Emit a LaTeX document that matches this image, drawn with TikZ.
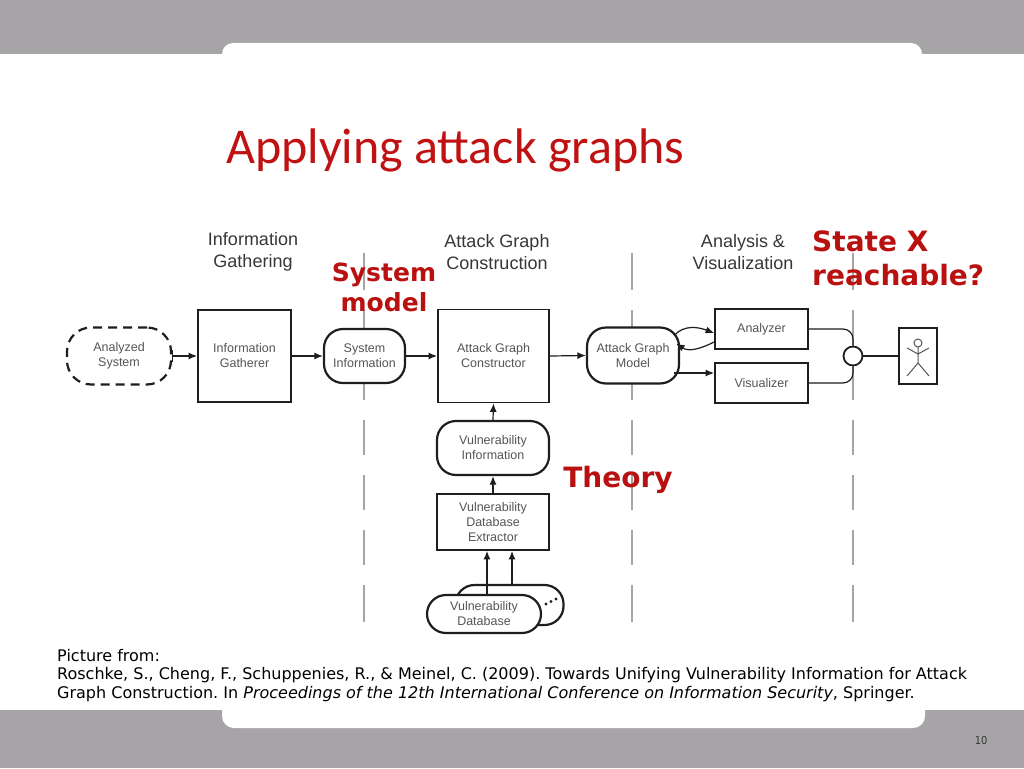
\documentclass[tikz,border=0pt]{standalone}
\usepackage{fontspec}
\setmainfont{Liberation Sans}
\newfontfamily\titlefont{Carlito}
\newfontfamily\verd{DejaVu Sans}
\newfontfamily\tah{DejaVu Sans Condensed}
\usetikzlibrary{arrows.meta,calc}
\definecolor{band}{RGB}{167,164,167}
\definecolor{titlered}{RGB}{192,18,18}
\definecolor{labred}{RGB}{185,16,16}
\definecolor{ink}{RGB}{30,30,30}
\definecolor{txt}{RGB}{85,85,85}
\definecolor{hdr}{RGB}{55,55,55}
\definecolor{sep}{RGB}{165,165,165}
\tikzset{
  box/.style={draw=ink, line width=1.8pt, fill=white, inner sep=0pt, align=center,
    text=txt, font=\fontsize{12.5}{15}\selectfont},
  stad/.style={box, rounded corners=19pt, line width=2.2pt},
  arr/.style={draw=ink, line width=1.2pt, -{Latex[length=8.5pt,width=7pt]}},
  wire/.style={draw=ink, line width=1.2pt},
  sepline/.style={draw=sep, line width=1.6pt},
  hdrtext/.style={align=center, text=hdr, font=\fontsize{18}{22}\selectfont},
  redlab/.style={text=labred, font=\verd\bfseries\fontsize{28}{34}\selectfont, inner sep=0pt},
}
\frenchspacing
\begin{document}
\begin{tikzpicture}[x=1pt,y=-1pt]
\useasboundingbox (0,0) rectangle (1024,768);
\fill[white] (0,0) rectangle (1024,768);
% bands
\fill[band] (0,0) rectangle (1024,54);
\fill[white,rounded corners=11pt] (222,43) rectangle (922,110);
\fill[band] (0,710) rectangle (1024,768);
\fill[white,rounded corners=12pt] (222,640) rectangle (925,728);
\node[anchor=base east, text=hdr, font=\tah\fontsize{11}{13}\selectfont] (pnum) at (991,744) {10};
% title
\node[anchor=base west, text=titlered, font=\titlefont\fontsize{50}{60}\selectfont, inner sep=0pt] (title) at (226,163) {Applying attack graphs};
% separator lines
\foreach \x in {364,632,853}{
  \foreach \a/\b in {253/290,310/400,420/455,475/510,530/565,585/622}{
    \draw[sepline] (\x,\a) -- (\x,\b);
  }
}
% headers
\node[hdrtext] (h1) at (253,252) {Information\\Gathering};
\node[hdrtext] (h2) at (497,252) {Attack Graph\\Construction};
\node[hdrtext] (h3) at (743,252) {Analysis \&\\Visualization};
% nodes
\node[box, dashed, dash pattern=on 9pt off 6pt, line width=2.2pt, rounded corners=24pt,
      minimum width=104pt, minimum height=57pt] (as) at (119,356) {Analyzed\\System};
\node[box, minimum width=93pt, minimum height=92pt] (ig) at (244.5,356) {Information\\Gatherer};
\node[stad, minimum width=81pt, minimum height=54pt] (si) at (364.5,356) {System\\Information};
\node[box, minimum width=111pt, minimum height=93pt] (agc) at (493.5,356) {Attack Graph\\Constructor};
\node[stad, minimum width=92pt, minimum height=56pt] (agm) at (633,355.5) {Attack Graph\\Model};
\node[box, minimum width=93pt, minimum height=40pt] (an) at (761.5,329) {Analyzer};
\node[box, minimum width=93pt, minimum height=40pt] (vi) at (761.5,383) {Visualizer};
\node[draw=ink, line width=1.8pt, fill=white, circle, minimum size=19pt, inner sep=0pt] (circ) at (853,356) {};
\node[draw=ink, line width=1.8pt, fill=white, minimum width=38pt, minimum height=56pt, inner sep=0pt] (actor) at (918,356) {};
\node[stad, minimum width=112pt, minimum height=54pt] (vinfo) at (493,448) {Vulnerability\\Information};
\node[box, minimum width=112pt, minimum height=56pt] (vde) at (493,522) {Vulnerability\\Database\\Extractor};
\node[stad, minimum width=108pt, minimum height=40pt] (dbb) at (509.5,605) {};
\node[stad, minimum width=114pt, minimum height=38pt] (dbf) at (484,614) {Vulnerability\\Database};
\fill[ink] (546,604) circle (1.6pt) (551,601.5) circle (1.6pt) (556,599) circle (1.6pt);
% stick figure
\draw[txt, line width=1pt] (918,343) circle (4pt);
\draw[txt, line width=1pt] (918,347) -- (918,363)
  (907,348) -- (918,354) -- (929,348)
  (907,376) -- (918,363) -- (929,376);
% connectors
\draw[wire, {Bar[width=12pt]}-{Latex[length=8.5pt,width=7pt]}] (as.east) -- (ig.west);
\draw[arr] (ig.east) -- (si.west);
\draw[arr] (si.east) -- (agc.west);
\draw[arr] (agc.east) -- (agm.west);
\draw[arr] (vinfo.north) -- (agc.south);
\draw[arr] (vde.north) -- (vinfo.south);
\draw[arr] ([xshift=3pt]dbf.north) -- ([xshift=3pt]dbf.north |- vde.south);
\draw[arr] ([xshift=2.5pt]dbb.north) -- ([xshift=2.5pt]dbb.north |- vde.south);
\draw[arr] ([xshift=-6pt,yshift=20pt]agm.east) .. controls +(10pt,11pt) and +(-16pt,6pt) .. ([yshift=-4pt]an.west);
\draw[arr] ([yshift=-13pt]an.west) .. controls +(-16pt,-8pt) and +(12pt,-8pt) .. ([xshift=-4pt,yshift=12pt]agm.east);
\draw[arr] ([xshift=-6pt,yshift=-17.5pt]agm.east) -- ([yshift=10pt]vi.west);
\draw[wire, rounded corners=10pt] (an.east) -| (circ.north);
\draw[wire, rounded corners=10pt] (vi.east) -| (circ.south);
\draw[wire] (circ.east) -- (actor.west);
% red labels
\node[redlab, align=center, font=\verd\bfseries\fontsize{25}{30}\selectfont] (sysm) at (384,287) {System\\model};
\node[redlab, align=left, anchor=west] (statex) at (812,258) {State X\\reachable?};
\node[redlab] (theory) at (618,480) {Theory};
% citation
\node[anchor=north west, inner sep=0pt, align=left, text=black, font=\verd\fontsize{16}{18.5}\selectfont] (cite) at (57,649)
 {Picture from:\\Roschke, S., Cheng, F., Schuppenies, R., \& Meinel, C. (2009). Towards Unifying Vulnerability Information for Attack\\Graph Construction. In \textit{Proceedings of the 12th International Conference on Information Security}, Springer.};
\end{tikzpicture}
\end{document}
